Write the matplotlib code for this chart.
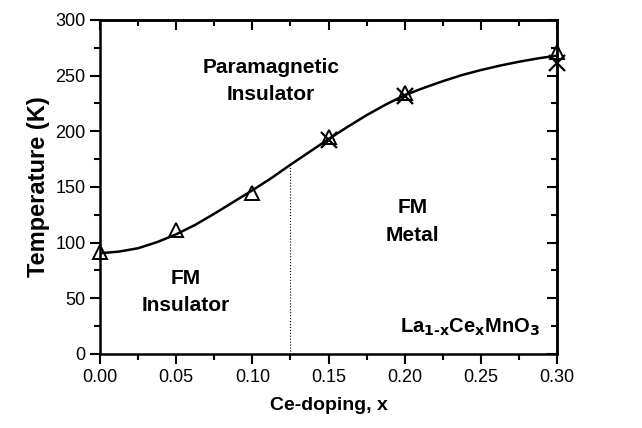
import numpy as np
import matplotlib.pyplot as plt
from matplotlib.ticker import MultipleLocator

plt.rcParams['font.family'] = ['Liberation Sans', 'DejaVu Sans']
plt.rcParams['font.weight'] = 'bold'

# data
x_tri = [0.0, 0.05, 0.10, 0.15, 0.20, 0.30]
t_tri = [92, 111, 145, 195, 234, 271]
x_cross = [0.15, 0.20, 0.30]
t_cross = [192, 232, 261]

# smooth guide curve
x_curve = [0, 0.0125, 0.025, 0.0375, 0.05, 0.0625, 0.075, 0.0875, 0.1, 0.1125,
           0.125, 0.1375, 0.15, 0.1625, 0.175, 0.1875, 0.2, 0.2125, 0.225,
           0.2375, 0.25, 0.2625, 0.275, 0.2875, 0.3]
t_curve = [90.5, 92, 95, 100.5, 107.5, 116, 126, 136.5, 147, 158, 170, 181.5, 193,
           204, 214.5, 224, 232.5, 239, 245, 250.5, 255, 259, 262.5, 265.5, 268]

x_border = 0.125
t_border = 170

fig = plt.figure(figsize=(6.42, 4.28), dpi=100)
ax = fig.add_axes([0.1558, 0.1729, 0.7118, 0.7804])

ax.plot(x_curve, t_curve, color='black', lw=1.8, zorder=3)
ax.plot(x_tri, t_tri, linestyle='none', marker='^', markersize=10, mfc='none',
        mec='black', mew=1.4, zorder=4, clip_on=False)
ax.plot(x_cross, t_cross, linestyle='none', marker='x', markersize=12,
        color='black', mew=1.6, zorder=4, clip_on=False)
ax.plot([x_border, x_border], [0, t_border], color='black', lw=0.8, ls=':')

ax.set_xlim(0, 0.30)
ax.set_ylim(0, 300)
ax.xaxis.set_major_locator(MultipleLocator(0.05))
ax.xaxis.set_minor_locator(MultipleLocator(0.025))
ax.yaxis.set_major_locator(MultipleLocator(50))
ax.yaxis.set_minor_locator(MultipleLocator(25))
ax.xaxis.set_major_formatter(plt.FormatStrFormatter('%.2f'))

for s in ax.spines.values():
    s.set_linewidth(1.8)
ax.tick_params(which='both', direction='out', width=1.5, labelsize=13,
               top=False, right=False)
ax.tick_params(which='major', length=7)
ax.tick_params(which='minor', length=4)
ax2 = ax.secondary_xaxis('top')
ax2.xaxis.set_major_locator(MultipleLocator(0.05))
ax2.xaxis.set_minor_locator(MultipleLocator(0.025))
ax2.tick_params(which='both', direction='in', width=1.5, labeltop=False)
ax2.tick_params(which='major', length=7)
ax2.tick_params(which='minor', length=4)
ax3 = ax.secondary_yaxis('right')
ax3.yaxis.set_major_locator(MultipleLocator(50))
ax3.yaxis.set_minor_locator(MultipleLocator(25))
ax3.tick_params(which='both', direction='in', width=1.5, labelright=False)
ax3.tick_params(which='major', length=7)
ax3.tick_params(which='minor', length=4)
for a in (ax2, ax3):
    for s in a.spines.values():
        s.set_linewidth(1.8)
for lab in ax.get_xticklabels() + ax.get_yticklabels():
    lab.set_fontweight('normal')

ax.set_xlabel('Ce-doping, x', fontsize=14, fontweight='bold', labelpad=8)
ax.set_ylabel('Temperature (K)', fontsize=17, fontweight='bold', labelpad=4)

kw = dict(fontsize=15, fontweight='bold', ha='center', va='center', linespacing=1.55)
ax.text(0.112, 245, 'Paramagnetic\nInsulator', **kw)
ax.text(0.205, 119, 'FM\nMetal', **kw)
ax.text(0.056, 56, 'FM\nInsulator', **kw)
ax.text(0.289, 24, r'La$_{\mathbf{1\text{-}x}}$Ce$_{\mathbf{x}}$MnO$_{\mathbf{3}}$',
        fontsize=14.5, fontweight='bold', ha='right', va='center')

fig.savefig('out.png', dpi=100)
